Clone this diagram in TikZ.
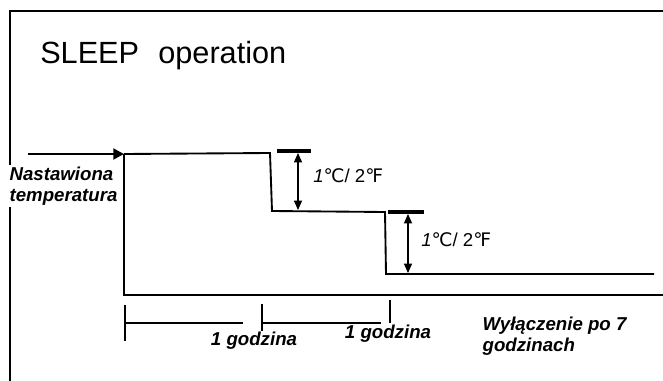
\documentclass[tikz,border=0pt]{standalone}
\usepackage{fontspec}
\setmainfont{Liberation Sans}
\newfontfamily\symfont{DejaVu Sans}
\usetikzlibrary{arrows.meta}
\begin{document}
\begin{tikzpicture}[x=0.75pt,y=-0.75pt,
  frameline/.style={line width=1.5pt},
  graphline/.style={line width=1.4pt},
  markbar/.style={line width=2.3pt},
  dimarrow/.style={line width=1pt,{Triangle[length=7pt,width=6pt]}-{Triangle[length=7pt,width=6pt]}},
  tl/.style={line width=1.1pt},
  lbl/.style={font=\fontsize{14pt}{16pt}\selectfont\bfseries\itshape,inner sep=1pt},
  deg/.style={font=\fontsize{14pt}{16pt}\selectfont,inner sep=0pt,anchor=west}]
\useasboundingbox (0,0) rectangle (663,381);
% frame
\coordinate (f1) at (10,381);
\coordinate (f2) at (10,11);
\coordinate (f3) at (663,11);
\draw[frameline] (f1) -- (f2) -- (f3);
% title
\node[anchor=base west,inner sep=0pt,font=\fontsize{23pt}{27pt}\selectfont] (title) at (40,64) {SLEEP\hspace{0.35em} operation};
% set temperature label
\node[lbl,fill=white,align=left,anchor=west] (nast) at (8,186) {Nastawiona\\temperatura};
% arrow into graph
\coordinate (a0) at (28,154);
\coordinate (p0) at (124,154);
\draw[line width=2.2pt,-{Triangle[length=8pt,width=8pt]}] (a0) -- (p0);
% temperature profile
\coordinate (p1) at (270,153);
\coordinate (p2) at (272,211);
\coordinate (p3) at (385,212);
\coordinate (p4) at (386,274);
\coordinate (p5) at (654,274);
\draw[graphline] (p0) -- (p1) -- (p2) -- (p3) -- (p4) -- (p5);
% base box
\coordinate (b0) at (124,295);
\coordinate (b1) at (663,295);
\draw[graphline] (p0) -- (b0) -- (b1);
% marker bars
\coordinate (m1a) at (277,151);
\coordinate (m1b) at (311,151);
\coordinate (m2a) at (388,212);
\coordinate (m2b) at (424,212);
\draw[markbar] (m1a) -- (m1b);
\draw[markbar] (m2a) -- (m2b);
% dimension arrows
\coordinate (d1a) at (298,153);
\coordinate (d1b) at (298,210);
\coordinate (d2a) at (408,214);
\coordinate (d2b) at (408,273);
\draw[dimarrow] (d1a) -- (d1b);
\draw[dimarrow] (d2a) -- (d2b);
\node[deg] (deg1) at (313,176) {\itshape 1\upshape{\symfont ℃}/ 2{\symfont ℉}};
\node[deg] (deg2) at (421,240) {\itshape 1\upshape{\symfont ℃}/ 2{\symfont ℉}};
% timeline
\coordinate (t1a) at (125,305);
\coordinate (t1b) at (125,341);
\coordinate (t2a) at (262,304);
\coordinate (t2b) at (262,331);
\coordinate (t3a) at (390,300);
\coordinate (t3b) at (390,323);
\coordinate (h1a) at (125,323);
\coordinate (h1b) at (243,323);
\coordinate (h2a) at (262,323);
\coordinate (h2b) at (381,323);
\draw[tl] (t1a) -- (t1b);
\draw[tl] (t2a) -- (t2b);
\draw[tl] (t3a) -- (t3b);
\draw[tl] (h1a) -- (h1b);
\draw[tl] (h2a) -- (h2b);
\node[lbl] (g1) at (254,341) {1 godzina};
\node[lbl] (g2) at (388,334) {1 godzina};
\node[lbl,align=left,anchor=west] (wyl) at (481,336) {Wyłączenie po 7\\godzinach};
\end{tikzpicture}
\end{document}
